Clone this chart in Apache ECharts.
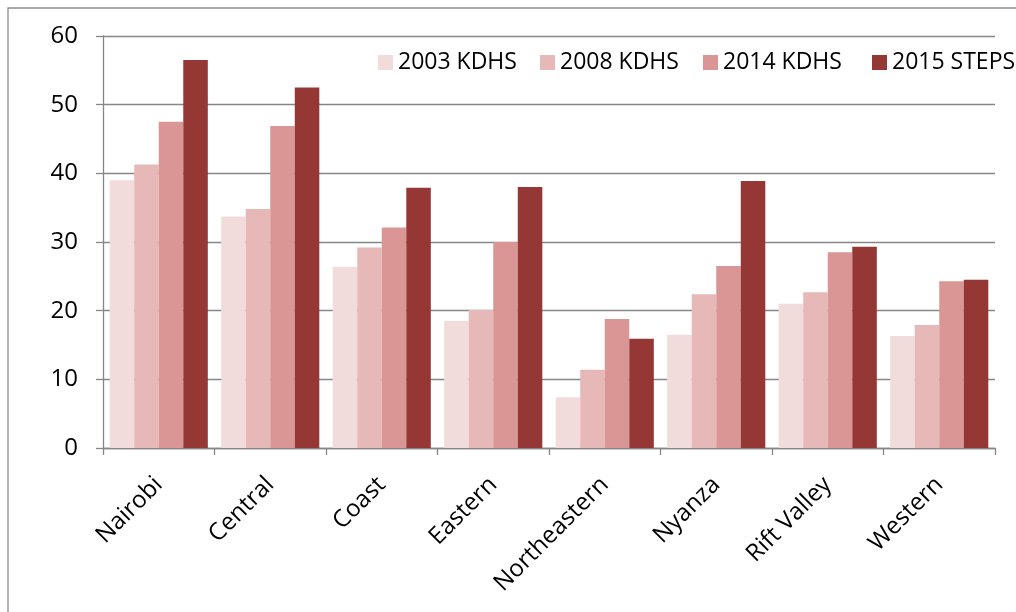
<!DOCTYPE html>
<html><head><meta charset="utf-8">
<script src="https://cdn.jsdelivr.net/npm/echarts@6/dist/echarts.min.js"></script>
<style>html,body{margin:0;padding:0;background:#fff}#c{width:1016px;height:612px}</style>
</head><body><div id="c"></div>
<script>
var categories = ['Nairobi','Central','Coast','Eastern','Northeastern','Nyanza','Rift Valley','Western'];
var seriesNames = ['2003 KDHS','2008 KDHS','2014 KDHS','2015 STEPS'];
var kdhs2003 = [39.0, 33.7, 26.4, 18.5, 7.4, 16.5, 21.0, 16.3];
var kdhs2008 = [41.3, 34.8, 29.2, 20.1, 11.4, 22.4, 22.7, 17.9];
var kdhs2014 = [47.5, 46.9, 32.1, 30.0, 18.8, 26.5, 28.5, 24.3];
var steps2015 = [56.5, 52.5, 37.9, 38.0, 15.9, 38.9, 29.3, 24.5];
var yTicks = [0, 10, 20, 30, 40, 50, 60];

var colors = ['#F2DCDB','#E6B9B8','#D99694','#953735'];
var dataSets = [kdhs2003, kdhs2008, kdhs2014, steps2015];
var legendLefts = [373, 535, 698, 867];
var font = 'Open Sans';

var chart = echarts.init(document.getElementById('c'), null, {renderer:'canvas'});
chart.setOption({
  animation: false,
  backgroundColor: '#fff',
  textStyle: {fontFamily: font},
  graphic: [{
    type: 'rect', shape: {x: 8, y: 8, width: 1100, height: 700},
    style: {fill: 'none', stroke: '#8c8c8c', lineWidth: 1.3}, silent: true, z: -10
  }],
  legend: seriesNames.map(function (n, i) {
    return {
      data: [n], left: legendLefts[i], top: 46,
      itemWidth: 15, itemHeight: 15, itemGap: 6, icon: 'rect',
      textStyle: {fontSize: 23, color: '#000', fontFamily: font}
    };
  }),
  grid: {left: 103, right: 21, top: 36, bottom: 164, containLabel: false},
  xAxis: {
    type: 'category', data: categories,
    axisLine: {lineStyle: {color: '#868686', width: 1.3}},
    axisTick: {show: true, length: 7, alignWithLabel: false, lineStyle: {color: '#868686', width: 1.3}},
    axisLabel: {rotate: 45, fontSize: 24, color: '#000', margin: 33, interval: 0, fontFamily: font}
  },
  yAxis: {
    type: 'value', min: yTicks[0], max: yTicks[yTicks.length-1], interval: 10,
    axisLine: {show: true, lineStyle: {color: '#868686', width: 1.3}},
    axisTick: {show: true, length: 7, inside: false, lineStyle: {color: '#868686', width: 1.3}},
    splitLine: {lineStyle: {color: '#868686', width: 1.3}},
    axisLabel: {fontSize: 24, color: '#000', margin: 25, fontFamily: font}
  },
  series: seriesNames.map(function (n, i) {
    return {
      name: n, type: 'bar', data: dataSets[i], barGap: '0%', barCategoryGap: '12%',
      itemStyle: {color: colors[i]}
    };
  })
});
</script></body></html>
